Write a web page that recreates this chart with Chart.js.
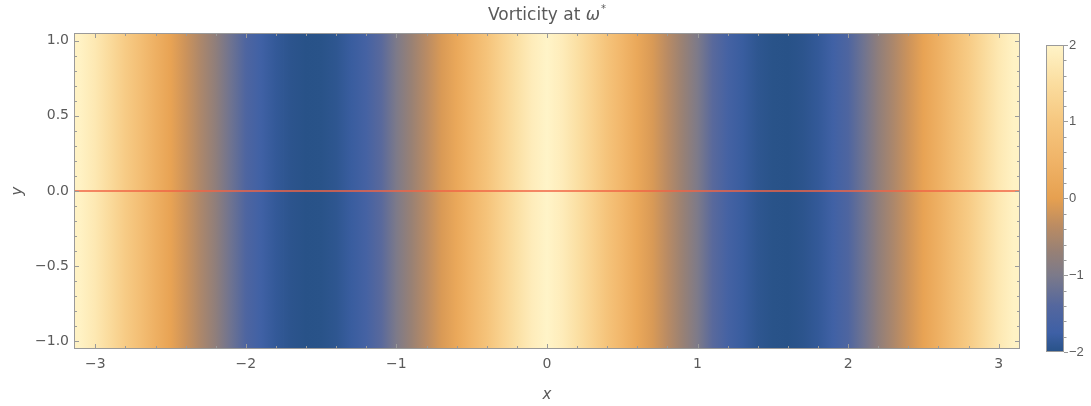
<!DOCTYPE html>
<html>
<head>
<meta charset="utf-8">
<script src="https://cdn.jsdelivr.net/npm/chart.js@4.4.1/dist/chart.umd.min.js"></script>
<style>
html, body { margin: 0; padding: 0; background: #fff; }
#wrap { position: relative; width: 1091px; height: 406px; }
#main { position: absolute; left: 0; top: 0; }
#bar { position: absolute; left: 1035px; top: 0; }
</style>
</head>
<body>
<div id="wrap">
  <canvas id="main" width="1035" height="406"></canvas>
  <canvas id="bar" width="56" height="406"></canvas>
</div>
<script>
// sample positions along x and vorticity values
const xs = [-3.1, -3.0, -2.9, -2.8, -2.7, -2.6, -2.5, -2.4, -2.3, -2.2, -2.1, -2.0, -1.9, -1.8, -1.7, -1.6,
            -1.5, -1.4, -1.3, -1.2, -1.1, -1.0, -0.9, -0.8, -0.7, -0.6, -0.5, -0.4, -0.3, -0.2, -0.1, 0,
            0.1, 0.2, 0.3, 0.4, 0.5, 0.6, 0.7, 0.8, 0.9, 1.0, 1.1, 1.2, 1.3, 1.4, 1.5,
            1.6, 1.7, 1.8, 1.9, 2.0, 2.1, 2.2, 2.3, 2.4, 2.5, 2.6, 2.7, 2.8, 2.9, 3.0, 3.1];
const vort = [1.95, 1.73, 1.44, 1.10, 0.75, 0.40, 0.08, -0.22, -0.50, -0.78, -1.14, -1.49, -1.72, -1.87, -1.96, -2.00,
              -1.99, -1.93, -1.81, -1.64, -1.35, -0.99, -0.67, -0.38, -0.11, 0.20, 0.55, 0.90, 1.25, 1.56, 1.83, 2.00,
              1.83, 1.56, 1.25, 0.90, 0.55, 0.20, -0.11, -0.38, -0.67, -0.99, -1.35, -1.64, -1.81, -1.93, -1.99,
              -2.00, -1.96, -1.87, -1.72, -1.49, -1.14, -0.78, -0.50, -0.22, 0.08, 0.40, 0.75, 1.10, 1.44, 1.73, 1.95];
const xTicks = [-3, -2, -1, 0, 1, 2, 3];
const yTicks = [-1, -0.5, 0, 0.5, 1];
const cbTicks = [-2, -1, 0, 1, 2];
const lineX = [-3.1416, 3.1416];
const lineY = [0, 0];

// colour scale (value -> rgb)
const cmapV = [-2, -1.75, -1.4, -1.0, -0.7, -0.35, 0, 0.5, 1.0, 1.5, 2];
const cmapC = [[40, 82, 136], [62, 96, 166], [84, 103, 158], [124, 122, 138], [150, 128, 118],
               [188, 140, 98], [230, 160, 80], [240, 180, 104], [246, 199, 127], [251, 221, 159], [255, 244, 200]];

function colorOf(v) {
    if (v <= cmapV[0]) return 'rgb(' + cmapC[0].join(',') + ')';
    for (let i = 1; i < cmapV.length; i++) {
        if (v <= cmapV[i]) {
            const t = (v - cmapV[i - 1]) / (cmapV[i] - cmapV[i - 1]);
            const c = cmapC[i - 1].map((a, k) => Math.round(a + (cmapC[i][k] - a) * t));
            return 'rgb(' + c.join(',') + ')';
        }
    }
    return 'rgb(' + cmapC[cmapC.length - 1].join(',') + ')';
}

const minus = s => String(s).replace('-', '\u2212');
const FONT = '"DejaVu Sans", Verdana, sans-serif';
const BARFONT = '"Liberation Sans", Arial, sans-serif';
const GREY = '#5a5a5a';
const FRAME = '#9a9a9a';

// gradient along x, stops placed by the x scale
function fieldFill(context) {
    const chart = context.chart;
    const a = chart.chartArea;
    if (!a) return colorOf(2);
    const sx = chart.scales.x;
    const g = chart.ctx.createLinearGradient(a.left, 0, a.right, 0);
    xs.forEach((x, i) => {
        const p = (sx.getPixelForValue(x) - a.left) / (a.right - a.left);
        g.addColorStop(Math.min(1, Math.max(0, p)), colorOf(vort[i]));
    });
    return g;
}

const framePlugin = {
    id: 'frame',
    afterDraw(chart) {
        const { ctx, chartArea: a, scales: { x, y } } = chart;
        ctx.save();
        ctx.strokeStyle = FRAME;
        ctx.lineWidth = 1;
        ctx.strokeRect(a.left + 0.5, a.top + 0.5, a.right - a.left - 1, a.bottom - a.top - 1);
        ctx.beginPath();
        for (let k = -15; k <= 15; k++) {
            const px = Math.round(x.getPixelForValue(k / 5)) + 0.5;
            const len = k % 5 === 0 ? 5 : 3;
            ctx.moveTo(px, a.bottom); ctx.lineTo(px, a.bottom - len);
            ctx.moveTo(px, a.top); ctx.lineTo(px, a.top + len);
        }
        for (let k = -10; k <= 10; k++) {
            const py = Math.round(y.getPixelForValue(k / 10)) + 0.5;
            const len = k % 5 === 0 ? 5 : 3;
            ctx.moveTo(a.left, py); ctx.lineTo(a.left + len, py);
            ctx.moveTo(a.right, py); ctx.lineTo(a.right - len, py);
        }
        ctx.stroke();

        // title: Vorticity at ω*
        const cx = (a.left + a.right) / 2;
        const base = 20;
        const p1 = 'Vorticity at ';
        ctx.fillStyle = GREY;
        ctx.textBaseline = 'alphabetic';
        ctx.font = '17px ' + FONT;
        const w1 = ctx.measureText(p1).width;
        ctx.font = 'italic 17px ' + FONT;
        const w2 = ctx.measureText('\u03c9').width;
        ctx.font = '10px ' + FONT;
        const w3 = ctx.measureText('*').width;
        let sx = cx - (w1 + w2 + w3 + 1) / 2;
        ctx.textAlign = 'left';
        ctx.font = '17px ' + FONT;
        ctx.fillText(p1, sx, base);
        ctx.font = 'italic 17px ' + FONT;
        ctx.fillText('\u03c9', sx + w1, base);
        ctx.font = '10px ' + FONT;
        ctx.fillText('*', sx + w1 + w2 + 1, base - 8);
        ctx.restore();
    }
};

new Chart(document.getElementById('main'), {
    data: {
        datasets: [
            {
                type: 'line',
                data: lineX.map((x, i) => ({ x: x, y: lineY[i] })),
                borderColor: 'rgba(240, 100, 70, 0.75)',
                borderWidth: 2,
                pointRadius: 0,
                order: 0
            },
            {
                type: 'bar',
                data: xs.map(x => ({ x: x, y: [-1.05, 1.05] })),
                backgroundColor: fieldFill,
                borderWidth: 0,
                barPercentage: 1.06,
                categoryPercentage: 1,
                order: 1
            }
        ]
    },
    options: {
        responsive: false,
        animation: false,
        events: [],
        layout: { padding: { top: 33, right: 15, left: 0, bottom: 0 } },
        plugins: { legend: { display: false }, tooltip: { enabled: false } },
        scales: {
            x: {
                type: 'linear',
                min: -Math.PI,
                max: Math.PI,
                offset: false,
                grid: { display: false, drawTicks: false, offset: false },
                border: { display: false },
                afterBuildTicks: s => { s.ticks = xTicks.map(v => ({ value: v })); },
                afterFit: s => { s.height = 57; },
                ticks: { color: GREY, font: { family: FONT, size: 14 }, padding: 7, maxRotation: 0,
                         callback: v => minus(v) },
                title: { display: true, text: 'x', color: GREY, padding: { top: 0, bottom: 2 },
                         font: { family: FONT, size: 15, style: 'italic' } }
            },
            y: {
                type: 'linear',
                min: -1.05,
                max: 1.05,
                grid: { display: false, drawTicks: false },
                border: { display: false },
                afterBuildTicks: s => { s.ticks = yTicks.map(v => ({ value: v })); },
                afterFit: s => { s.width = 74; },
                ticks: { color: GREY, font: { family: FONT, size: 14 }, padding: 5,
                         callback: v => minus(v.toFixed(1)) },
                title: { display: true, text: 'y', color: GREY, padding: { top: 9, bottom: 0 },
                         font: { family: FONT, size: 15, style: 'italic' } }
            }
        }
    },
    plugins: [framePlugin]
});

// colour bar legend
function barFill(context) {
    const chart = context.chart;
    const a = chart.chartArea;
    if (!a) return colorOf(0);
    const sy = chart.scales.y;
    const top = sy.getPixelForValue(2), bot = sy.getPixelForValue(-2);
    const g = chart.ctx.createLinearGradient(0, bot, 0, top);
    cmapV.forEach(v => g.addColorStop((v + 2) / 4, colorOf(v)));
    return g;
}

const barFrame = {
    id: 'barFrame',
    afterDraw(chart) {
        const { ctx, chartArea: a, scales: { y } } = chart;
        ctx.save();
        ctx.strokeStyle = FRAME;
        ctx.lineWidth = 1;
        ctx.strokeRect(a.left + 0.5, a.top + 0.5, a.right - a.left - 1, a.bottom - a.top - 1);
        ctx.beginPath();
        for (let k = -10; k <= 10; k++) {
            if (k % 5 === 0) continue;
            const py = Math.round(y.getPixelForValue(k / 5)) + 0.5;
            ctx.moveTo(a.right, py); ctx.lineTo(a.right + 2.5, py);
        }
        ctx.stroke();
        ctx.restore();
    }
};

new Chart(document.getElementById('bar'), {
    type: 'bar',
    data: {
        labels: ['v'],
        datasets: [{ data: [[-2, 2]], backgroundColor: barFill, borderWidth: 0,
                     barPercentage: 1, categoryPercentage: 1 }]
    },
    options: {
        responsive: false,
        animation: false,
        events: [],
        layout: { padding: { top: 45, left: 11, bottom: 54, right: 0 } },
        plugins: { legend: { display: false }, tooltip: { enabled: false } },
        scales: {
            x: { display: false },
            y: {
                position: 'right',
                min: -2,
                max: 2,
                grid: { display: true, drawOnChartArea: false, drawTicks: true, tickLength: 4, color: FRAME },
                border: { display: false },
                afterBuildTicks: s => { s.ticks = cbTicks.map(v => ({ value: v })); },
                afterFit: s => { s.width = 27; },
                ticks: { color: GREY, font: { family: BARFONT, size: 13 }, padding: 1,
                         callback: v => minus(v) }
            }
        }
    },
    plugins: [barFrame]
});
</script>
</body>
</html>
